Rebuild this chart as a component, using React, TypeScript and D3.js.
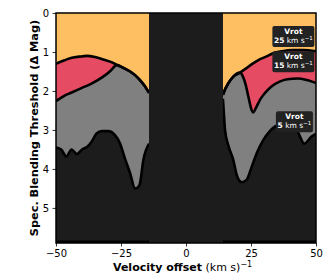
import React, { useEffect, useRef } from 'react';
import * as d3 from 'd3';

const width = 332;
const height = 277;
const margin = { top: 13, right: 16, bottom: 34, left: 56 };

// [velocity offset (km/s), blending threshold (delta mag)]
const left25 = [[-50, 1.3], [-47, 1.22], [-44.6, 1.16], [-41, 1.12], [-38.2, 1.1], [-35, 1.13], [-31.9, 1.19], [-28, 1.28], [-26.7, 1.33], [-24, 1.41], [-21.5, 1.5], [-19.5, 1.6], [-17.7, 1.72], [-16, 1.86], [-14.2, 2.05]];
const left15 = [[-50, 2.26], [-47, 2.13], [-44, 2.04], [-40, 1.92], [-36, 1.8], [-32, 1.64], [-29, 1.48], [-27.3, 1.36], [-26.7, 1.33], [-24, 1.41], [-21.5, 1.5], [-19.5, 1.6], [-17.7, 1.72], [-16, 1.86], [-14.2, 2.05]];
const left5 = [[-50, 3.45], [-48, 3.5], [-46, 3.68], [-44, 3.5], [-42, 3.62], [-40, 3.5], [-38, 3.43], [-36.3, 3.3], [-34.4, 3.09], [-32.4, 3.03], [-30, 3.03], [-27.3, 3.13], [-25.4, 3.34], [-23.5, 3.73], [-21.5, 4.11], [-19.6, 4.5], [-18.6, 4.48], [-17.7, 4.37], [-16.4, 3.77], [-14.2, 3.35]];

const right25 = [[14.2, 2.1], [14.4, 2.06], [16.3, 1.8], [18.2, 1.63], [20.8, 1.53], [22.5, 1.45], [25.6, 1.3], [28, 1.2], [30.8, 1.12], [33.3, 1.04], [37, 0.98], [41, 0.95], [45, 0.95], [50, 0.98]];
const right15 = [[14.2, 2.1], [14.4, 2.06], [16.3, 1.8], [18.2, 1.63], [20.8, 1.53], [22, 1.65], [23, 1.85], [24, 2.15], [25.3, 2.5], [25.8, 2.55], [27, 2.42], [28.5, 2.22], [30.4, 2.05], [33, 1.88], [36, 1.76], [39, 1.7], [43, 1.68], [46, 1.71], [48.5, 1.76], [50, 1.8]];
const right5 = [[14.2, 2.2], [14.6, 2.6], [15, 3.0], [16.3, 3.4], [18.2, 3.77], [19.5, 4.15], [20.5, 4.3], [21.4, 4.34], [23.3, 4.28], [25.3, 3.94], [27.2, 3.6], [29.7, 3.26], [32, 3.05], [34, 2.92], [37, 2.85], [40, 2.85], [43, 3.05], [45.5, 3.35], [48.3, 3.17], [50, 3.1]];

const blocked = [-14.2, 14.2];
const xTicks = [-50, -25, 0, 25, 50];
const yTicks = [0, 1, 2, 3, 4, 5];
const vrot = ['25', '15', '5'];
const colors = ['#fdbf61', '#e54c64', '#808080'];

export default function App() {
	const ref = useRef<SVGSVGElement>(null);

	useEffect(() => {
		const svg = d3.select(ref.current);
		svg.selectAll('*').remove();
		svg.style('font-family', 'DejaVu Sans');

		const x = d3.scaleLinear().domain([-50, 50]).range([margin.left, width - margin.right]);
		const y = d3.scaleLinear().domain([0, 5.9]).range([margin.top, height - margin.bottom]);
		const yBottom = height - margin.bottom;

		svg.append('clipPath')
			.attr('id', 'plot-clip')
			.append('rect')
			.attr('x', margin.left)
			.attr('y', margin.top)
			.attr('width', width - margin.left - margin.right)
			.attr('height', yBottom - margin.top);

		const g = svg.append('g').attr('clip-path', 'url(#plot-clip)');
		g.append('rect')
			.attr('x', margin.left)
			.attr('y', margin.top)
			.attr('width', width - margin.left - margin.right)
			.attr('height', yBottom - margin.top)
			.attr('fill', '#1c1c1c');

		const area = d3.area<number[]>()
			.x(d => x(d[0]))
			.y0(y(0))
			.y1(d => y(d[1]))
			.curve(d3.curveMonotoneX);
		const line = d3.line<number[]>()
			.x(d => x(d[0]))
			.y(d => y(d[1]))
			.curve(d3.curveMonotoneX);

		const sides = [
			[left25, left15, left5],
			[right25, right15, right5],
		];
		sides.forEach(curves => {
			// deepest first so the shallower fills sit on top
			[2, 1, 0].forEach(i => {
				g.append('path').attr('d', area(curves[i])).attr('fill', colors[i]);
			});
			[2, 1, 0].forEach(i => {
				g.append('path')
					.attr('d', line(curves[i]))
					.attr('fill', 'none')
					.attr('stroke', '#000')
					.attr('stroke-width', 2.6)
					.attr('stroke-linejoin', 'round');
			});
			const first = curves[0][0][0];
			const last = curves[0][curves[0].length - 1][0];
			g.append('line')
				.attr('x1', x(first))
				.attr('x2', x(last))
				.attr('y1', yBottom - 1)
				.attr('y2', yBottom - 1)
				.attr('stroke', '#000')
				.attr('stroke-width', 3);
		});

		g.append('rect')
			.attr('x', x(blocked[0]))
			.attr('y', margin.top)
			.attr('width', x(blocked[1]) - x(blocked[0]))
			.attr('height', yBottom - margin.top)
			.attr('fill', '#1c1c1c');

		// annotation boxes
		const labelPos = [[41.3, 0.6], [41.3, 1.25], [41.7, 2.79]];
		const boxW = [42, 42, 37];
		vrot.forEach((v, i) => {
			const cx = x(labelPos[i][0]);
			const cy = y(labelPos[i][1]);
			g.append('rect')
				.attr('x', cx - boxW[i] / 2)
				.attr('y', cy - 10.5)
				.attr('width', boxW[i])
				.attr('height', 21)
				.attr('rx', 2)
				.attr('fill', '#222');
			g.append('text')
				.attr('x', cx)
				.attr('y', cy - 2.5)
				.attr('text-anchor', 'middle')
				.attr('fill', '#fff')
				.attr('font-size', 7.5)
				.attr('font-weight', 'bold')
				.text('Vrot');
			const t = g.append('text')
				.attr('x', cx)
				.attr('y', cy + 6.5)
				.attr('text-anchor', 'middle')
				.attr('fill', '#fff')
				.attr('font-size', 7.5);
			t.append('tspan').attr('font-weight', 'bold').text(v);
			t.append('tspan').text(' km s');
			t.append('tspan').attr('font-size', 5.5).attr('dy', -3).text('\u22121');
		});

		// frame
		svg.append('rect')
			.attr('x', margin.left)
			.attr('y', margin.top)
			.attr('width', width - margin.left - margin.right)
			.attr('height', yBottom - margin.top)
			.attr('fill', 'none')
			.attr('stroke', '#000')
			.attr('stroke-width', 1.5);

		const xAxis = svg.append('g')
			.attr('transform', `translate(0,${yBottom})`)
			.call(d3.axisBottom(x).tickValues(xTicks).tickFormat(d3.format('d')).tickSize(3.5).tickPadding(3.5));
		const yAxis = svg.append('g')
			.attr('transform', `translate(${margin.left},0)`)
			.call(d3.axisLeft(y).tickValues(yTicks).tickFormat(d3.format('d')).tickSize(3.5).tickPadding(3.5));
		[xAxis, yAxis].forEach(a => {
			a.select('.domain').remove();
			a.selectAll('text').attr('font-size', 10).attr('font-family', 'DejaVu Sans').attr('fill', '#000');
			a.selectAll('line').attr('stroke', '#000').attr('stroke-width', 0.8);
		});

		const xl = svg.append('text')
			.attr('x', 113)
			.attr('y', 271)
			.attr('font-size', 11);
		xl.append('tspan').attr('font-weight', 'bold').text('Velocity offset');
		xl.append('tspan').text(' (km s)');
		xl.append('tspan').attr('font-size', 8).attr('dy', -4).text('\u22121');

		svg.append('text')
			.attr('transform', `translate(38,${(margin.top + yBottom) / 2}) rotate(-90)`)
			.attr('text-anchor', 'middle')
			.attr('font-size', 11.3)
			.attr('font-weight', 'bold')
			.text('Spec. Blending Threshold (\u0394 Mag)');
	}, []);

	return (
		<svg
			ref={ref}
			width={width}
			height={height}
			style={{ position: 'absolute', left: 0, top: 0, background: '#fff' }}
		/>
	);
}
